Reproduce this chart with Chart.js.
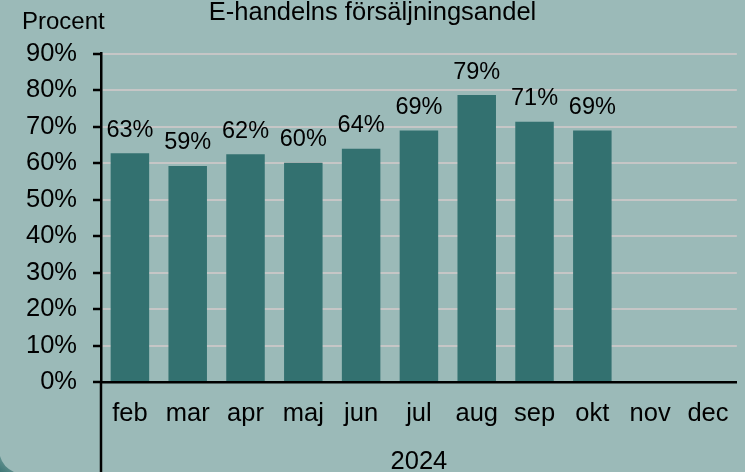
<!DOCTYPE html>
<html>
<head>
<meta charset="utf-8">
<script src="https://cdn.jsdelivr.net/npm/chart.js@4/dist/chart.umd.min.js"></script>
<style>
  html, body { margin: 0; padding: 0; background: #9bbab8; }
  #wrap { width: 745px; height: 472px; }
</style>
</head>
<body>
<div id="wrap"><canvas id="c" width="745" height="472"></canvas></div>
<script>
const chartTitle = 'E-handelns försäljningsandel';
const yAxisLabel = 'Procent';
const yearLabel = '2024';
const months = ['feb', 'mar', 'apr', 'maj', 'jun', 'jul', 'aug', 'sep', 'okt', 'nov', 'dec'];
const shares = [62.7, 59.2, 62.4, 60.1, 63.9, 68.9, 78.6, 71.3, 68.9, null, null];
const yTicks = [0, 10, 20, 30, 40, 50, 60, 70, 80, 90];

const FONT = "'Liberation Sans', Arial, sans-serif";
const BG = '#9bbab8';
const BAR = '#337170';

const bgPlugin = {
  id: 'bg',
  beforeDraw(chart) {
    const ctx = chart.ctx;
    ctx.save();
    ctx.fillStyle = BG;
    ctx.fillRect(0, 0, chart.width, chart.height);
    // decorative darker corner at bottom-left
    const g = ctx.createLinearGradient(0, 472, 14, 455);
    g.addColorStop(0, '#3f7776');
    g.addColorStop(1, '#7fa7a5');
    ctx.fillStyle = g;
    ctx.beginPath();
    ctx.moveTo(0, 456);
    ctx.quadraticCurveTo(3, 467, 14, 472);
    ctx.lineTo(0, 472);
    ctx.closePath();
    ctx.fill();
    ctx.restore();
  },
  afterDraw(chart) {
    const ctx = chart.ctx;
    const a = chart.chartArea;
    ctx.save();
    // "Procent" label
    ctx.fillStyle = '#000';
    ctx.font = '24px ' + FONT;
    ctx.textAlign = 'left';
    ctx.textBaseline = 'alphabetic';
    ctx.fillText(yAxisLabel, 22, 29);
    // group separator below x axis
    ctx.strokeStyle = '#000';
    ctx.lineWidth = 2.5;
    ctx.beginPath();
    ctx.moveTo(a.left, a.bottom);
    ctx.lineTo(a.left, chart.height);
    ctx.stroke();
    ctx.restore();
  },
  afterDatasetsDraw(chart) {
    const ctx = chart.ctx;
    const meta = chart.getDatasetMeta(0);
    const data = chart.data.datasets[0].data;
    ctx.save();
    ctx.fillStyle = '#000';
    ctx.font = '23.5px ' + FONT;
    ctx.textAlign = 'center';
    ctx.textBaseline = 'alphabetic';
    meta.data.forEach((bar, i) => {
      const v = data[i];
      if (v === null || v === undefined) return;
      ctx.fillText(Math.round(v) + '%', bar.x, bar.y - 16.5);
    });
    ctx.restore();
  }
};

new Chart(document.getElementById('c'), {
  type: 'bar',
  data: {
    labels: months,
    datasets: [{
      data: shares,
      backgroundColor: BAR,
      borderColor: '#3b7b79',
      borderWidth: 0,
      categoryPercentage: 1,
      barPercentage: 0.666
    }]
  },
  options: {
    responsive: false,
    devicePixelRatio: 1,
    animation: false,
    layout: { padding: { top: 0, left: 0, right: 0, bottom: 0 } },
    plugins: {
      legend: { display: false },
      tooltip: { enabled: false },
      title: {
        display: true,
        text: chartTitle,
        color: '#000',
        font: { family: FONT, size: 25.5, weight: 'normal', lineHeight: 1.0 },
        padding: { top: 0, bottom: 28 }
      }
    },
    scales: {
      x: {
        offset: true,
        grid: { display: false, drawTicks: false },
        border: { display: true, color: '#000', width: 2.5 },
        ticks: {
          color: '#000',
          font: { family: FONT, size: 25.5, lineHeight: 1.2 },
          padding: 16.5,
          maxRotation: 0,
          autoSkip: false
        },
        title: {
          display: true,
          text: yearLabel,
          color: '#000',
          font: { family: FONT, size: 25.5, lineHeight: 0.8 },
          padding: { top: 0, bottom: 0 }
        },
        afterFit(scale) { scale.height = 90; }
      },
      y: {
        min: 0,
        max: 90,
        afterBuildTicks(scale) { scale.ticks = yTicks.map(v => ({ value: v })); },
        grid: {
          color: '#c6c6c6',
          lineWidth: 2,
          drawTicks: true,
          tickLength: 8,
          tickColor: '#000',
          tickWidth: 2.5
        },
        border: { display: true, color: '#000', width: 2.5 },
        ticks: {
          color: '#000',
          font: { family: FONT, size: 25.5 },
          padding: 16,
          callback: v => v + '%'
        },
        afterFit(scale) { scale.width = 101; }
      }
    }
  },
  plugins: [bgPlugin]
});
</script>
</body>
</html>
